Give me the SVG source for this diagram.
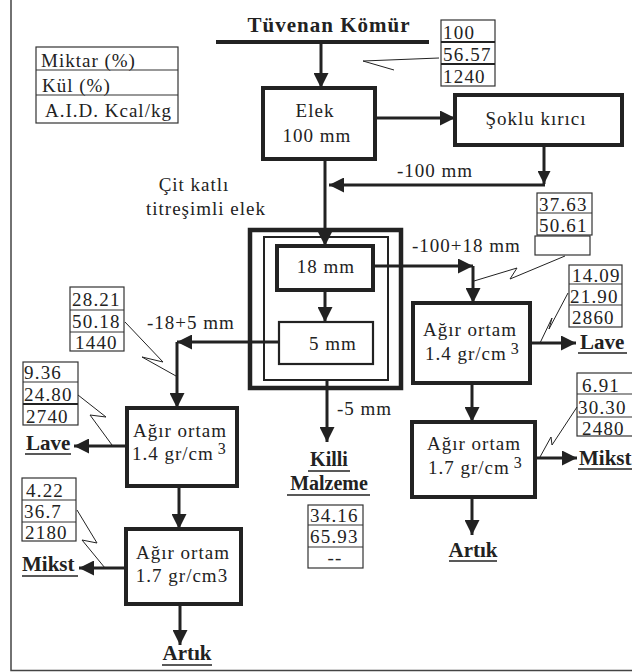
<svg xmlns="http://www.w3.org/2000/svg" width="632" height="672" viewBox="0 0 632 672">
<style>
text{font-family:"Liberation Serif","Times New Roman",serif;fill:#222;}
.t{font-size:19px;letter-spacing:1px;}
.n{font-size:19px;letter-spacing:1.2px;}
.b{font-size:20px;font-weight:bold;}
.box{fill:#fff;stroke:#222;stroke-width:4;}
.cell{fill:none;stroke:#333;stroke-width:1.2;}
.ul{stroke:#222;stroke-width:1.5;}
.c{fill:none;stroke:#222;stroke-width:3;}
.cl{fill:none;stroke:#222;stroke-width:1;}
</style>
<defs>
<marker id="ah" viewBox="0 0 10 10" refX="10" refY="5" markerUnits="userSpaceOnUse" markerWidth="15" markerHeight="15" orient="auto">
<path d="M0,0 L10,5 L0,10 z" fill="#222"/>
</marker>
<marker id="as" viewBox="0 0 10 10" refX="10" refY="5" markerUnits="userSpaceOnUse" markerWidth="13" markerHeight="13" orient="auto">
<path d="M0,0 L10,5 L0,10 z" fill="#222"/>
</marker>
</defs>
<rect x="0" y="0" width="632" height="672" fill="#fff"/>
<g id="frame"><path d="M11,0 L11,670.5 L632,670.5" fill="none" stroke="#444" stroke-width="1.5"/></g>

<g id="title">
<text class="b" x="329" y="32" text-anchor="middle" style="font-size:21px;letter-spacing:1px">Tüvenan Kömür</text>
<line x1="216" y1="42" x2="429" y2="42" stroke="#222" stroke-width="4"/>
</g>

<g id="legend">
<rect class="cell" x="36" y="47" width="142" height="76"/>
<line class="cell" x1="36" y1="70" x2="178" y2="70"/>
<line class="cell" x1="36" y1="95" x2="178" y2="95"/>
<text class="t" x="41" y="67">Miktar (%)</text>
<text class="t" x="42" y="92">Kül (%)</text>
<text class="t" x="45" y="117">A.I.D. Kcal/kg</text>
</g>

<g id="data-top">
<rect class="cell" x="441" y="20" width="54" height="66"/>
<line x1="441" y1="42" x2="495" y2="42" stroke="#222" stroke-width="2"/>
<line x1="441" y1="64" x2="495" y2="64" stroke="#222" stroke-width="2"/>
<text class="n" x="443" y="39">100</text>
<text class="n" x="443" y="61">56.57</text>
<text class="n" x="443" y="83">1240</text>
</g>

<g id="elek">
<rect class="box" x="263" y="88" width="112" height="71"/>
<text class="t" x="315" y="117" text-anchor="middle">Elek</text>
<text class="t" x="317" y="142" text-anchor="middle">100 mm</text>
</g>

<g id="soklu">
<rect class="box" x="455" y="95" width="167" height="50"/>
<text class="t" x="536" y="125" text-anchor="middle">Şoklu kırıcı</text>
</g>

<g id="cit-label">
<text class="t" x="194" y="191" text-anchor="middle">Çit katlı</text>
<text class="t" x="206" y="215" text-anchor="middle">titreşimli elek</text>
</g>

<g id="elek-cit">
<rect x="250" y="230" width="151" height="158" fill="#fff" stroke="#222" stroke-width="4.5"/>
<rect x="264" y="237" width="124" height="143" fill="#fff" stroke="#222" stroke-width="2"/>
</g>
<g id="elek-18">
<rect class="box" x="277" y="246" width="96" height="44"/>
<text class="t" x="326" y="273" text-anchor="middle">18 mm</text>
</g>
<g id="elek-5">
<rect x="279" y="322" width="94" height="42" fill="#fff" stroke="#222" stroke-width="2.2"/>
<text class="t" x="333" y="350" text-anchor="middle">5 mm</text>
</g>

<g id="data-3763">
<rect class="cell" x="537" y="193" width="55" height="42"/>
<line class="cell" x1="537" y1="213" x2="592" y2="213"/>
<rect class="cell" x="535" y="236" width="55" height="19"/>
<text class="n" x="539" y="211">37.63</text>
<text class="n" x="539" y="232">50.61</text>
</g>

<g id="data-1409">
<rect class="cell" x="569" y="265" width="53" height="62"/>
<line class="cell" x1="569" y1="284" x2="622" y2="284"/>
<line class="cell" x1="569" y1="305" x2="622" y2="305"/>
<text class="n" x="572" y="282">14.09</text>
<text class="n" x="570" y="303">21.90</text>
<text class="n" x="572" y="324">2860</text>
</g>

<g id="agir-r14">
<rect class="box" x="413" y="303" width="117" height="80"/>
<text class="t" x="470" y="336" text-anchor="middle">Ağır ortam</text>
<text class="t" x="425" y="360">1.4 gr/cm<tspan dx="4" dy="-6" style="font-size:16px">3</tspan></text>
</g>
<g id="lave-r">
<text class="b" x="580" y="349" style="font-size:21px">Lave</text>
<line class="ul" x1="578" y1="353" x2="627" y2="353"/>
</g>

<g id="data-691">
<rect class="cell" x="577" y="373" width="60" height="63"/>
<line class="cell" x1="577" y1="394" x2="637" y2="394"/>
<line class="cell" x1="577" y1="417" x2="637" y2="417"/>
<text class="n" x="582" y="392">6.91</text>
<text class="n" x="578" y="414">30.30</text>
<text class="n" x="582" y="435">2480</text>
</g>

<g id="agir-r17">
<rect class="box" x="412" y="422" width="123" height="75"/>
<text class="t" x="474" y="450" text-anchor="middle">Ağır ortam</text>
<text class="t" x="428" y="474">1.7 gr/cm<tspan dx="4" dy="-6" style="font-size:16px">3</tspan></text>
</g>
<g id="mikst-r">
<text class="b" x="579" y="465" style="font-size:21px">Mikst</text>
<line class="ul" x1="578" y1="469" x2="632" y2="469"/>
</g>
<g id="artik-r">
<text class="b" x="473" y="557" text-anchor="middle" style="font-size:21px">Artık</text>
<line class="ul" x1="449" y1="561" x2="497" y2="561"/>
</g>

<g id="data-2821">
<rect class="cell" x="70" y="287" width="54" height="64"/>
<line class="cell" x1="70" y1="310" x2="124" y2="310"/>
<line class="cell" x1="70" y1="332" x2="124" y2="332"/>
<text class="n" x="72" y="306">28.21</text>
<text class="n" x="72" y="328">50.18</text>
<text class="n" x="75" y="349">1440</text>
</g>

<g id="data-936">
<rect class="cell" x="23" y="362" width="55" height="63"/>
<line class="cell" x1="23" y1="382" x2="78" y2="382"/>
<line x1="23" y1="404" x2="78" y2="404" stroke="#222" stroke-width="2"/>
<text class="n" x="24" y="379">9.36</text>
<text class="n" x="24" y="401">24.80</text>
<text class="n" x="26" y="423">2740</text>
</g>

<g id="agir-l14">
<rect class="box" x="127" y="408" width="110" height="78"/>
<text class="t" x="180" y="437" text-anchor="middle">Ağır ortam</text>
<text class="t" x="132" y="460">1.4 gr/cm<tspan dx="4" dy="-6" style="font-size:16px">3</tspan></text>
</g>
<g id="lave-l">
<text class="b" x="26" y="450" style="font-size:21px">Lave</text>
<line class="ul" x1="25" y1="454" x2="71" y2="454"/>
</g>

<g id="data-422">
<rect class="cell" x="22" y="478" width="54" height="63"/>
<line class="cell" x1="22" y1="500" x2="76" y2="500"/>
<line class="cell" x1="22" y1="522" x2="76" y2="522"/>
<text class="n" x="26" y="497">4.22</text>
<text class="n" x="24" y="518">36.7</text>
<text class="n" x="25" y="539">2180</text>
</g>

<g id="agir-l17">
<rect class="box" x="126" y="529" width="115" height="75"/>
<text class="t" x="183" y="559" text-anchor="middle">Ağır ortam</text>
<text class="t" x="182" y="582" text-anchor="middle">1.7 gr/cm3</text>
</g>
<g id="mikst-l">
<text class="b" x="22" y="571" style="font-size:21px">Mikst</text>
<line class="ul" x1="22" y1="576" x2="78" y2="576"/>
</g>
<g id="artik-l">
<text class="b" x="187" y="660" text-anchor="middle" style="font-size:21px">Artık</text>
<line class="ul" x1="162" y1="665" x2="212" y2="665"/>
</g>

<g id="killi">
<text class="b" x="329" y="466" text-anchor="middle" style="font-size:20px">Killi</text>
<line class="ul" x1="308" y1="471" x2="350" y2="471"/>
<text class="b" x="329" y="490" text-anchor="middle" style="font-size:20px">Malzeme</text>
<line class="ul" x1="287" y1="495" x2="370" y2="495"/>
</g>
<g id="data-3416">
<rect class="cell" x="308" y="505" width="55" height="63"/>
<line class="cell" x1="308" y1="525" x2="363" y2="525"/>
<line class="cell" x1="308" y1="547" x2="363" y2="547"/>
<text class="n" x="310" y="522">34.16</text>
<text class="n" x="310" y="543">65.93</text>
<text class="n" x="335" y="564" text-anchor="middle">--</text>
</g>

<g id="flow-labels">
<text class="t" x="397" y="177">-100 mm</text>
<text class="t" x="412" y="252">-100+18 mm</text>
<text class="t" x="147" y="329">-18+5 mm</text>
<text class="t" x="337" y="415">-5 mm</text>
</g>

<g id="connectors">
<path class="c" d="M321,42 L321,88" marker-end="url(#ah)"/>
<path class="c" d="M376,118 L455,118" marker-end="url(#ah)"/>
<path class="c" d="M544,145 L544,184" stroke-width="2.5" marker-end="url(#as)"/>
<path class="c" d="M545,185 L329,185" stroke-width="2.5" marker-end="url(#ah)"/>
<path class="c" d="M325,160 L325,246" marker-end="url(#ah)"/>
<path class="c" d="M325,290 L325,322" marker-end="url(#ah)"/>
<path class="c" d="M373,266 L473,266" marker-end="url(#ah)"/>
<path class="c" d="M473,266 L473,303" marker-end="url(#ah)"/>
<path class="c" d="M279,342 L177,342" stroke-width="5" marker-end="url(#ah)"/>
<path class="c" d="M177,342 L177,408" stroke-width="2.5" marker-end="url(#ah)"/>
<path class="c" d="M472,383 L472,422" marker-end="url(#ah)"/>
<path class="c" d="M530,343 L576,343" marker-end="url(#ah)"/>
<path class="c" d="M535,458 L577,458" marker-end="url(#ah)"/>
<path class="c" d="M472,497 L472,535" marker-end="url(#ah)"/>
<path class="c" d="M127,446 L74,446" marker-end="url(#ah)"/>
<path class="c" d="M179,486 L179,529" marker-end="url(#ah)"/>
<path class="c" d="M126,568 L79,568" marker-end="url(#ah)"/>
<path class="c" d="M180,604 L180,645" marker-end="url(#ah)"/>
<path class="c" d="M327,381 L327,442" marker-end="url(#ah)"/>
<polyline class="cl" points="439,58 363,61 394,70"/>
<polyline class="cl" points="565,256 510,279 517,268 474,281"/>
<polyline class="cl" points="568,293 549,329 552,318 540,343"/>
<polyline class="cl" points="577,407 552,445 551,437 540,457"/>
<polyline class="cl" points="125,322 163,362 142,357 176,376"/>
<polyline class="cl" points="78,395 106,417 90,415 112,445"/>
<polyline class="cl" points="77,510 97,543 82,540 105,568"/>
</g>
</svg>
